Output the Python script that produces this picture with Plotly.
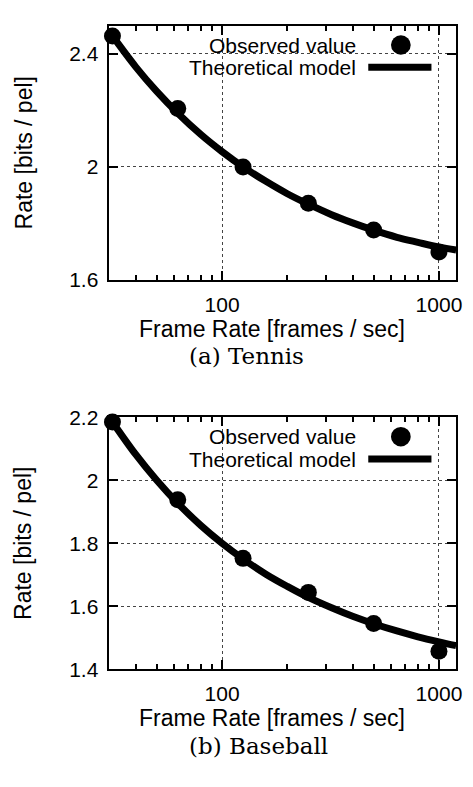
import plotly.graph_objects as go

W, H = 473, 787

# ---- data ----
frame_rates = [31.25, 62.5, 125, 250, 500, 1000]
tennis_obs = [2.463, 2.207, 2.000, 1.871, 1.777, 1.699]
baseball_obs = [2.185, 1.938, 1.752, 1.644, 1.545, 1.457]

model_x = [30, 40, 50, 62.5, 80, 100, 125, 160, 200, 250, 320, 400, 500, 640, 800, 1000, 1200]
tennis_model = [2.482, 2.354, 2.267, 2.190, 2.114, 2.054, 2.000, 1.948, 1.905, 1.868,
                1.831, 1.802, 1.776, 1.751, 1.733, 1.716, 1.706]
baseball_model = [2.203, 2.082, 2.000, 1.927, 1.856, 1.800, 1.750, 1.701, 1.663, 1.628,
                  1.595, 1.568, 1.5445, 1.5215, 1.503, 1.487, 1.475]

x_major = [100, 1000]
x_minor = [40, 50, 60, 70, 80, 90, 200, 300, 400, 500, 600, 700, 800, 900]
captions = ["(a) Tennis", "(b) Baseball"]
legend_labels = ["Observed value", "Theoretical model"]

# ---- layout geometry (pixels) ----
px_left, px_right = 110, 462
panels = [
    dict(top=14, bottom=276, yrange=[1.6, 2.5], dtick=0.4, obs=tennis_obs, model=tennis_model,
         title=327, cap=354),
    dict(top=417.5, bottom=677, yrange=[1.4, 2.2], dtick=0.2, obs=baseball_obs, model=baseball_model,
         title=727, cap=756),
]

SANS = "Liberation Sans, Arial, sans-serif"
SERIF = "DejaVu Serif, Liberation Serif, serif"

fig = go.Figure()
annotations = []
shapes = []


def py(p):
    return 1 - p / H


def pxx(p):
    return p / W


for i, p in enumerate(panels):
    n = "" if i == 0 else str(i + 1)
    xa, ya = "x" + n, "y" + n
    fig.add_trace(go.Scatter(x=model_x, y=p["model"], mode="lines", line=dict(color="black", width=7, shape="spline"),
                             xaxis=xa, yaxis=ya, showlegend=False, cliponaxis=True))
    fig.add_trace(go.Scatter(x=frame_rates, y=p["obs"], mode="markers", marker=dict(color="black", size=17),
                             xaxis=xa, yaxis=ya, showlegend=False, cliponaxis=False))

    axis_common = dict(showline=True, linecolor="black", linewidth=2, mirror="ticks", ticks="inside",
                       ticklen=9, tickwidth=1.5, tickcolor="black",
                       showgrid=True, gridcolor="#444", griddash="dot", gridwidth=1,
                       tickfont=dict(family=SANS, size=21, color="black"), zeroline=False)
    fig.layout["xaxis" + n] = dict(
        type="log", range=[1.4771, 3.0792], domain=[pxx(px_left), pxx(px_right)],
        anchor=ya, tickmode="array", tickvals=x_major, ticktext=[str(v) for v in x_major],
        ticklabelstandoff=5,
        minor=dict(tickmode="array", tickvals=x_minor, ticks="inside", ticklen=5, tickcolor="black",
                   tickwidth=1.5, showgrid=False),
        **axis_common)
    fig.layout["yaxis" + n] = dict(
        range=p["yrange"], domain=[py(p["bottom"]), py(p["top"])], anchor=xa,
        tick0=p["yrange"][0], dtick=p["dtick"], tickformat="~g", ticklabelstandoff=4,
        **axis_common)

    # opaque legend box (hides grid under legend)
    shapes.append(dict(type="rect", xref="paper", yref="paper", layer="between",
                       x0=pxx(184), x1=pxx(452), y0=py(p["top"] + 55), y1=py(p["top"] + 1.5),
                       fillcolor="white", line=dict(width=0)))
    # legend entries
    ly1 = p["top"] + 20
    ly2 = p["top"] + 43
    annotations.append(dict(text=legend_labels[0], x=pxx(362), y=py(ly1), xref="paper", yref="paper",
                            xanchor="right", yanchor="middle", showarrow=False, borderpad=0,
                            font=dict(family=SANS, size=21, color="black")))
    annotations.append(dict(text=legend_labels[1], x=pxx(362), y=py(ly2), xref="paper", yref="paper",
                            xanchor="right", yanchor="middle", showarrow=False, borderpad=0,
                            font=dict(family=SANS, size=21, color="black")))
    shapes.append(dict(type="circle", xref="paper", yref="paper", layer="above",
                       x0=pxx(396), x1=pxx(416), y0=py(ly1 + 10), y1=py(ly1 - 10),
                       fillcolor="black", line=dict(width=0)))
    shapes.append(dict(type="line", xref="paper", yref="paper", layer="above",
                       x0=pxx(373), x1=pxx(437), y0=py(ly2), y1=py(ly2),
                       line=dict(color="black", width=7)))

    # axis titles & captions
    annotations.append(dict(text="Rate [bits / pel]", x=pxx(24), y=py((p["top"] + p["bottom"]) / 2),
                            xref="paper", yref="paper", textangle=-90, showarrow=False,
                            xanchor="center", yanchor="middle",
                            font=dict(family=SANS, size=23, color="black")))
    annotations.append(dict(text="Frame Rate [frames / sec]", x=pxx(276), y=py(p["title"]),
                            xref="paper", yref="paper", showarrow=False, borderpad=0,
                            xanchor="center", yanchor="middle",
                            font=dict(family=SANS, size=23, color="black")))
    annotations.append(dict(text=captions[i], x=pxx(190), y=py(p["cap"]),
                            xref="paper", yref="paper", showarrow=False, borderpad=0,
                            xanchor="left", yanchor="middle",
                            font=dict(family=SERIF, size=23, color="black")))

fig.update_layout(width=W, height=H, margin=dict(l=0, r=0, t=0, b=0),
                  paper_bgcolor="white", plot_bgcolor="white",
                  showlegend=False, annotations=annotations, shapes=shapes)

fig.write_html("out.html", config={"displayModeBar": False},
               post_script="document.body.style.margin='0px';document.body.style.overflow='hidden';")
